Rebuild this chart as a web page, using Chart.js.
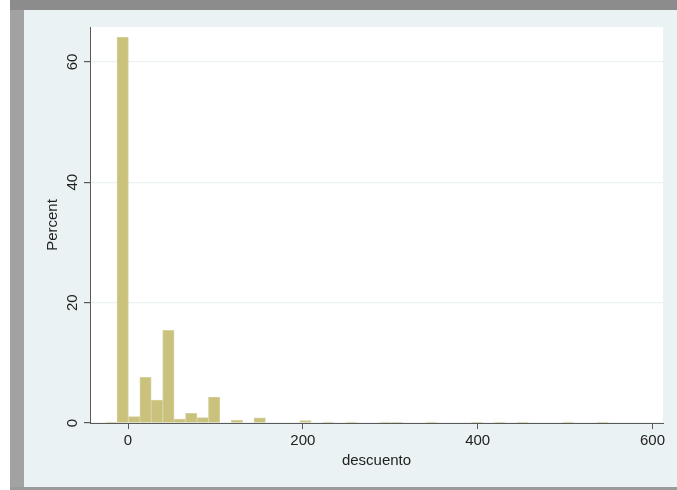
<!DOCTYPE html>
<html>
<head>
<meta charset="utf-8">
<script src="https://cdn.jsdelivr.net/npm/chart.js@4.4.1/dist/chart.umd.min.js"></script>
<style>
  body { margin: 0; background: #fff; width: 677px; height: 490px; position: relative; overflow: hidden; }
  #leftband { position: absolute; left: 10px; top: 0; width: 14px; height: 490px; background: #a2a2a2; }
  #topband { position: absolute; left: 10px; top: 0; width: 667px; height: 10px; background: #8c8c8c; }
  #botband { position: absolute; left: 10px; top: 487px; width: 667px; height: 3px; background: #9a9a9a; }
  #wrap { position: absolute; left: 24px; top: 10px; width: 653px; height: 477px; background: #eaf2f3; }
</style>
</head>
<body>
<div id="leftband"></div>
<div id="topband"></div>
<div id="botband"></div>
<div id="wrap"><canvas id="hist" width="653" height="477"></canvas></div>
<script>
// bin midpoints of descuento (width about 13.07)
let binMids = [-19.2, -6.1, 7.0, 20.0, 33.1, 46.2, 59.2, 72.3, 85.4, 98.5,
  111.5, 124.6, 137.7, 150.7, 163.8, 176.9, 189.9, 203.0, 216.1, 229.2,
  242.2, 255.3, 268.4, 281.4, 294.5, 307.6, 320.6, 333.7, 346.8, 359.9,
  372.9, 386.0, 399.1, 412.1, 425.2, 438.3, 451.3, 464.4, 477.5, 490.5,
  503.6, 516.7, 529.8, 542.8];
// percent in each bin
let percents = [0.15, 64.1, 1.05, 7.6, 3.8, 15.4, 0.66, 1.6, 0.9, 4.3,
  0, 0.45, 0, 0.85, 0, 0, 0, 0.4, 0, 0.15,
  0, 0.15, 0, 0, 0.15, 0.15, 0, 0, 0.15, 0,
  0, 0, 0.15, 0, 0.15, 0, 0.15, 0, 0, 0,
  0.15, 0, 0, 0.15];
let xTicks = [0, 200, 400, 600];
let yTicks = [0, 20, 40, 60];

const font = { family: "'Liberation Sans', Arial, Helvetica, sans-serif", size: 15 };
const axisColor = '#5a5a5a';

// white plot region
const plotBg = {
  id: 'plotBg',
  beforeDraw(chart) {
    const a = chart.chartArea;
    const ctx = chart.ctx;
    ctx.save();
    ctx.fillStyle = '#ffffff';
    ctx.fillRect(a.left, a.top, a.right - a.left, a.bottom - a.top);
    ctx.restore();
  }
};

let myChart = new Chart(document.getElementById('hist'), {
  type: 'bar',
  data: {
    datasets: [{
      label: 'Percent',
      data: binMids.map((m, i) => ({ x: m, y: percents[i] })),
      backgroundColor: '#c9c17c',
      borderColor: '#d6d09c',
      borderWidth: 1,
      barPercentage: 1,
      categoryPercentage: 1
    }]
  },
  options: {
    responsive: false,
    animation: false,
    layout: { padding: { left: 16, right: 14, top: 17, bottom: 13 } },
    plugins: {
      legend: { display: false },
      tooltip: { enabled: false }
    },
    scales: {
      x: {
        type: 'linear',
        min: -43.5,
        max: 612,
        offset: false,
        afterFit: (s) => { s.height = 51; },
        afterBuildTicks: (s) => { s.ticks = xTicks.map(v => ({ value: v })); },
        grid: { offset: false, drawOnChartArea: false, tickColor: axisColor, tickLength: 6 },
        border: { color: axisColor, width: 1 },
        ticks: { font: font, color: '#222', padding: 3, maxRotation: 0 },
        title: { display: true, text: 'descuento', font: font, color: '#222' }
      },
      y: {
        min: 0,
        max: 65.8,
        afterFit: (s) => { s.width = 50; },
        afterBuildTicks: (s) => { s.ticks = yTicks.map(v => ({ value: v })); },
        grid: { color: '#eaf2f3', lineWidth: 1.2, tickColor: axisColor, tickLength: 6 },
        border: { color: axisColor, width: 1 },
        ticks: { font: font, color: '#222', padding: 3, minRotation: 90, maxRotation: 90, crossAlign: 'center' },
        title: { display: true, text: 'Percent', font: font, color: '#222' }
      }
    }
  },
  plugins: [plotBg]
});
</script>
</body>
</html>
